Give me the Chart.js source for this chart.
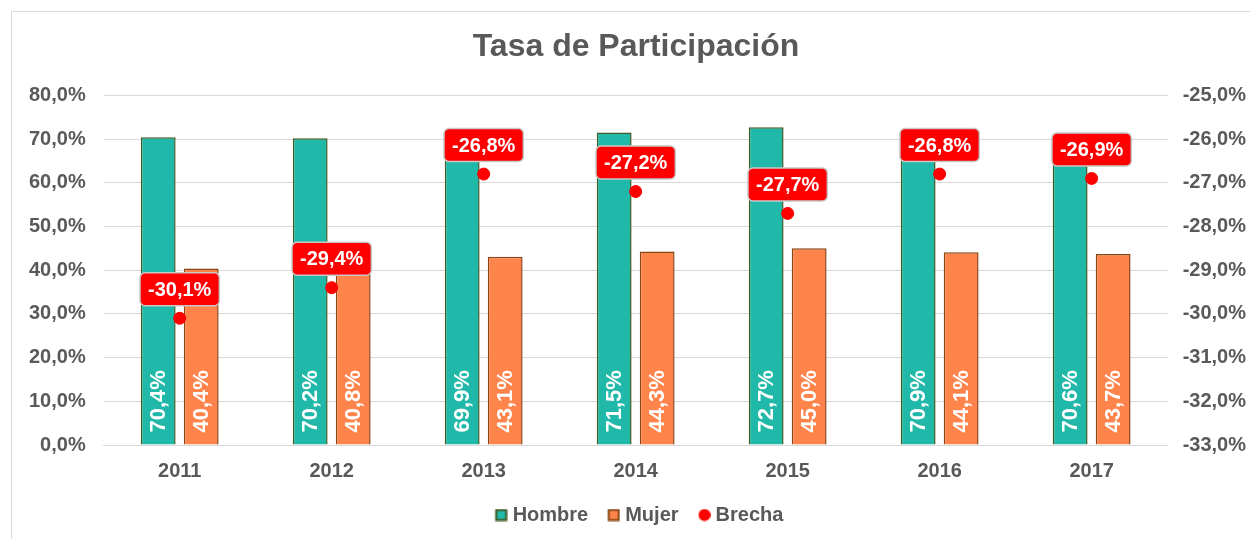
<!DOCTYPE html>
<html>
<head>
<meta charset="utf-8">
<script src="https://cdn.jsdelivr.net/npm/chart.js@4"></script>
<style>
  body { margin: 0; background: #fff; }
  #frame { position: absolute; left: 11px; top: 11px; width: 1260px; height: 560px; border: 1px solid #d9d9d9; }
  #wrap { position: absolute; left: 0; top: 0; width: 1250px; height: 539px; }
</style>
</head>
<body>
<div id="frame"></div>
<div id="wrap"><canvas id="chart"></canvas></div>
<script>
const years = ['2011', '2012', '2013', '2014', '2015', '2016', '2017'];
const hombre = [70.4, 70.2, 69.9, 71.5, 72.7, 70.9, 70.6];
const mujer = [40.4, 40.8, 43.1, 44.3, 45.0, 44.1, 43.7];
const brecha = [-30.1, -29.4, -26.8, -27.2, -27.7, -26.8, -26.9];

const gray = '#595959';
const FONT = '"Liberation Sans", Arial, sans-serif';
const fmt = v => v.toFixed(1).replace('.', ',') + '%';

// legend markers: 24px wide canvas, marker sits at the right end so the text gap is small
function marker(fill, stroke, round) {
    const c = document.createElement('canvas');
    c.width = 24; c.height = 13;
    const g = c.getContext('2d');
    g.fillStyle = fill;
    if (round) {
        g.beginPath();
        g.arc(18, 6.5, 6, 0, Math.PI * 2);
        g.fill();
    } else {
        g.fillRect(12, 1, 11, 11);
        g.strokeStyle = stroke;
        g.lineWidth = 2;
        g.strokeRect(12.5, 1.5, 10, 10);
    }
    return c;
}

const labelPlugin = {
    id: 'labels',
    afterDatasetsDraw(chart) {
        const ctx = chart.ctx;
        ctx.save();
        // rotated labels inside bars
        [0, 1].forEach(di => {
            const meta = chart.getDatasetMeta(di);
            meta.data.forEach((bar, i) => {
                ctx.save();
                ctx.translate(bar.x, bar.base - 12);
                ctx.rotate(-Math.PI / 2);
                ctx.font = 'bold 22px ' + FONT;
                ctx.fillStyle = '#fff';
                ctx.textAlign = 'left';
                ctx.textBaseline = 'middle';
                ctx.fillText(fmt(chart.data.datasets[di].data[i]), 0, 1);
                ctx.restore();
            });
        });
        // boxed labels for brecha
        const meta = chart.getDatasetMeta(2);
        ctx.font = 'bold 20px ' + FONT;
        meta.data.forEach((pt, i) => {
            const text = fmt(brecha[i]);
            const w = ctx.measureText(text).width + 16;
            const h = 33;
            const cx = pt.x, cy = pt.y - 29;
            ctx.beginPath();
            ctx.roundRect(cx - w / 2, cy - h / 2, w, h, 5);
            ctx.fillStyle = '#ff0000';
            ctx.fill();
            ctx.lineWidth = 1.5;
            ctx.strokeStyle = '#c8c8c8';
            ctx.stroke();
            ctx.fillStyle = '#fff';
            ctx.textAlign = 'center';
            ctx.textBaseline = 'middle';
            ctx.fillText(text, cx, cy + 1);
        });
        ctx.restore();
    }
};

new Chart(document.getElementById('chart'), {
    type: 'bar',
    data: {
        labels: years,
        datasets: [
            {
                label: 'Hombre',
                data: hombre,
                backgroundColor: '#20b8a8',
                borderColor: '#3f5a22',
                borderWidth: 1.5,
                categoryPercentage: 0.566,
                barPercentage: 0.81,
                yAxisID: 'y',
                order: 1
            },
            {
                label: 'Mujer',
                data: mujer,
                backgroundColor: '#ff844b',
                borderColor: '#8a4514',
                borderWidth: 1.5,
                categoryPercentage: 0.566,
                barPercentage: 0.81,
                yAxisID: 'y',
                order: 1
            },
            {
                type: 'line',
                label: 'Brecha',
                data: brecha,
                showLine: false,
                pointRadius: 6,
                pointBackgroundColor: '#ff0000',
                pointBorderColor: '#ff0000',
                yAxisID: 'y2',
                order: 0
            }
        ]
    },
    options: {
        responsive: true,
        maintainAspectRatio: false,
        animation: false,
        layout: { padding: { left: 11, right: -11, top: 18, bottom: 4 } },
        plugins: {
            title: {
                display: true,
                text: 'Tasa de Participación',
                color: gray,
                font: { family: FONT, size: 32, weight: 'bold' },
                padding: { top: 10, bottom: 29 }
            },
            legend: {
                position: 'bottom',
                labels: {
                    color: gray,
                    font: { family: FONT, size: 20, weight: 'bold' },
                    usePointStyle: true,
                    boxHeight: 13,
                    pointStyleWidth: 14,
                    padding: 13,
                    generateLabels(chart) {
                        const marks = [
                            marker('#20b8a8', '#3f5a22', false),
                            marker('#ff844b', '#8a4514', false),
                            marker('#ff0000', '#ff0000', true)
                        ];
                        return chart.data.datasets.map((ds, i) => ({
                            text: ds.label,
                            pointStyle: marks[i],
                            fontColor: gray,
                            lineWidth: 0,
                            datasetIndex: i
                        }));
                    }
                }
            },
            tooltip: { enabled: false }
        },
        scales: {
            x: {
                grid: { display: false },
                border: { color: '#d9d9d9' },
                ticks: {
                    color: gray,
                    font: { family: FONT, size: 20, weight: 'bold' },
                    padding: 6
                },
                afterFit(scale) { scale.height += 3; }
            },
            y: {
                position: 'left',
                min: 0,
                max: 80,
                ticks: {
                    stepSize: 10,
                    color: gray,
                    padding: 18,
                    font: { family: FONT, size: 20, weight: 'bold' },
                    callback: v => fmt(v)
                },
                grid: { color: '#d9d9d9', drawTicks: false },
                border: { display: false }
            },
            y2: {
                position: 'right',
                min: -33,
                max: -25,
                ticks: {
                    stepSize: 1,
                    color: gray,
                    padding: 15,
                    font: { family: FONT, size: 20, weight: 'bold' },
                    callback: v => fmt(v)
                },
                grid: { display: false, drawTicks: false },
                border: { display: false }
            }
        }
    },
    plugins: [labelPlugin]
});
</script>
</body>
</html>
